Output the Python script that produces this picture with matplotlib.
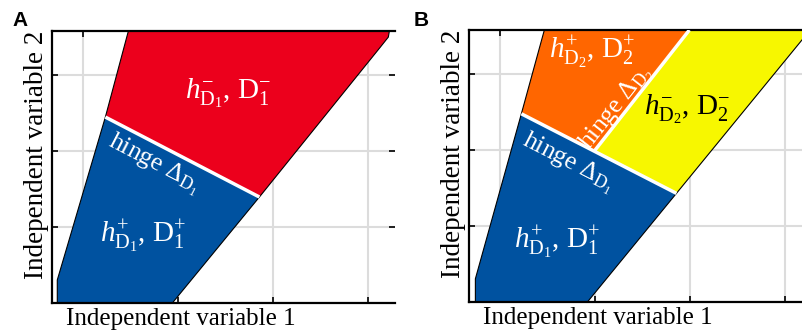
import numpy as np
import matplotlib.pyplot as plt
from matplotlib.patches import Polygon

plt.rcParams['font.family'] = 'Liberation Serif'
plt.rcParams['mathtext.fontset'] = 'custom'
plt.rcParams['mathtext.rm'] = 'Liberation Serif'
plt.rcParams['mathtext.it'] = 'Liberation Serif:italic'

# colours of the regions
c_blue = '#0052a0'
c_red = '#ec001c'
c_orange = '#ff6600'
c_yellow = '#f7f700'

# region corners (independent variable 1, independent variable 2)
# panel A
a_pos_x = [-0.274, -0.274, 0.232, 1.853, 0.937]
a_pos_y = [0.0, 0.303, 2.447, 1.395, 0.0]
a_neg_x = [0.232, 0.474, 3.221, 3.21, 3.126, 1.853]
a_neg_y = [2.447, 3.579, 3.579, 3.50, 3.368, 1.395]
a_hinge_x = [0.232, 1.853]
a_hinge_y = [2.447, 1.395]

# panel B
b_d1_pos_x = [-0.263, -0.263, 0.221, 1.853, 0.916]
b_d1_pos_y = [0.0, 0.305, 2.477, 1.430, 0.0]
b_d2_pos_x = [0.221, 0.463, 1.989, 0.989]
b_d2_pos_y = [2.477, 3.58, 3.58, 1.987]
b_d2_neg_x = [0.989, 1.989, 3.26, 1.853]
b_d2_neg_y = [1.987, 3.58, 3.58, 1.430]
b_hinge1_x = [0.221, 1.853]
b_hinge1_y = [2.477, 1.430]
b_hinge2_x = [0.989, 1.989]
b_hinge2_y = [1.987, 3.58]

grid_x = [0, 1, 2, 3]
grid_y = [0, 1, 2, 3]

xlabel = 'Independent variable 1'
ylabel = 'Independent variable 2'

label_size = 21
hinge_size = 18.5


def setup(ax):
    ax.set_xlim(-0.33, 3.28)
    ax.set_ylim(0, 3.58)
    ax.set_xticks(grid_x)
    ax.set_yticks(grid_y)
    ax.set_xticklabels([])
    ax.set_yticklabels([])
    ax.tick_params(direction='in', length=4, width=1.2, top=True, right=True)
    ax.grid(True, color='#dcdcdc', linewidth=1.5)
    ax.set_axisbelow(True)
    for s in ['left', 'top', 'bottom']:
        ax.spines[s].set_linewidth(1.6)
    ax.spines['right'].set_visible(False)
    ax.text(0.376, -0.081, xlabel, transform=ax.transAxes, ha='center', va='baseline', fontsize=18)
    ax.text(-0.044, 0.544, ylabel, transform=ax.transAxes, ha='center', va='center',
            rotation=90, fontsize=19.5)


def region(ax, xs, ys, color):
    ax.add_patch(Polygon(np.column_stack([xs, ys]), closed=True, facecolor=color,
                         edgecolor='black', linewidth=0.8, zorder=2))


def hinge(ax, xs, ys):
    ax.plot(xs, ys, color='white', linewidth=2.5, zorder=3, solid_capstyle='butt')


def angle(ax, xs, ys):
    p = ax.transData.transform(np.column_stack([xs, ys]))
    return np.degrees(np.arctan2(p[1, 1] - p[0, 1], p[1, 0] - p[0, 0]))


def hinge_label(ax, x, y, text, xs, ys):
    ax.text(x, y, text, color='white', fontsize=hinge_size, ha='center', va='center',
            rotation=angle(ax, xs, ys), rotation_mode='anchor', zorder=4)


def region_label(ax, x, y, text, color='white'):
    ax.text(x, y, text, color=color, fontsize=label_size, ha='center', va='center', zorder=4)


fig = plt.figure(figsize=(8.02, 3.34), dpi=100)
ax1 = fig.add_axes([0.0648, 0.0928, 0.4277, 0.8144])
ax2 = fig.add_axes([0.5848, 0.0958, 0.4277, 0.8144])

# A: one hinge
setup(ax1)
region(ax1, a_pos_x, a_pos_y, c_blue)
region(ax1, a_neg_x, a_neg_y, c_red)
hinge(ax1, a_hinge_x, a_hinge_y)
region_label(ax1, 1.526, 2.76, r'$h^{-}_{\mathrm{D}_1}$, D$^{-}_{1}$')
region_label(ax1, 0.63, 0.87, r'$h^{+}_{\mathrm{D}_1}$, D$^{+}_{1}$')
hinge_label(ax1, 0.74, 1.83, r'$\mathrm{hinge}\ \Delta_{\mathrm{D}_1}$', a_hinge_x, a_hinge_y)

# B: second hinge splits the upper region
setup(ax2)
region(ax2, b_d1_pos_x, b_d1_pos_y, c_blue)
region(ax2, b_d2_pos_x, b_d2_pos_y, c_orange)
region(ax2, b_d2_neg_x, b_d2_neg_y, c_yellow)
hinge(ax2, b_hinge1_x, b_hinge1_y)
hinge(ax2, b_hinge2_x, b_hinge2_y)
region_label(ax2, 0.97, 3.28, r'$h^{+}_{\mathrm{D}_2}$, D$^{+}_{2}$')
region_label(ax2, 1.97, 2.54, r'$h^{-}_{\mathrm{D}_2}$, D$^{-}_{2}$', color='black')
region_label(ax2, 0.60, 0.79, r'$h^{+}_{\mathrm{D}_1}$, D$^{+}_{1}$')
hinge_label(ax2, 0.71, 1.83, r'$\mathrm{hinge}\ \Delta_{\mathrm{D}_1}$', b_hinge1_x, b_hinge1_y)
hinge_label(ax2, 1.22, 2.56, r'$\mathrm{hinge}\ \Delta_{\mathrm{D}_2}$', b_hinge2_x, b_hinge2_y)

fig.text(20 / 802, 1 - 20 / 334, 'A', family='Liberation Sans', weight='bold', fontsize=15,
         ha='center', va='center')
fig.text(421 / 802, 1 - 20 / 334, 'B', family='Liberation Sans', weight='bold', fontsize=15,
         ha='center', va='center')

fig.savefig('out.png', dpi=100)
